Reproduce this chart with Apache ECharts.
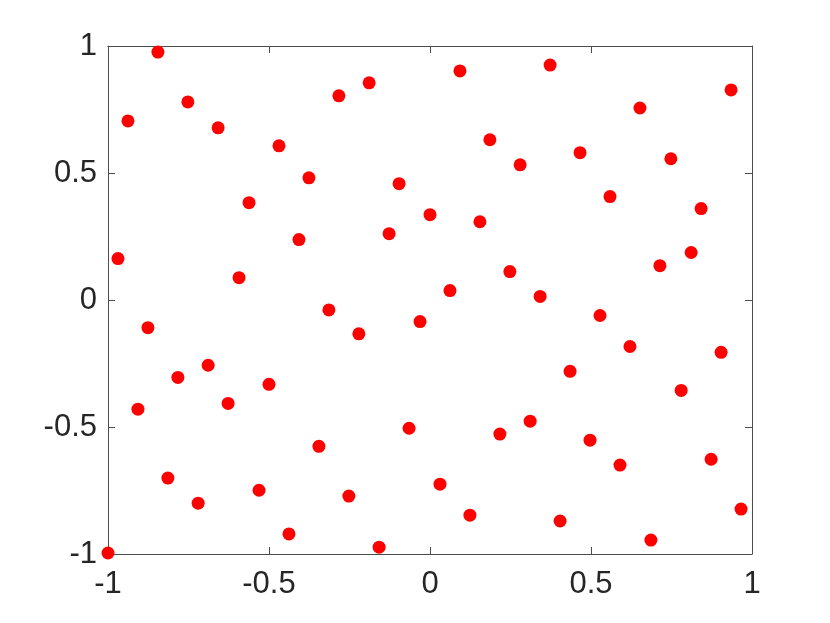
<!DOCTYPE html>
<html>
<head>
<meta charset="utf-8">
<script src="https://cdn.jsdelivr.net/npm/echarts@6/dist/echarts.min.js"></script>
<style>
    html, body { margin: 0; padding: 0; background: #fff; }
    #chart { width: 830px; height: 623px; }
</style>
</head>
<body>
<div id="chart"></div>
<script>
    // 点的坐标
    const xValues = [
        -0.845, -0.938, -0.752, -0.658, -0.969, -0.469, -0.562, -0.376, -0.283, -0.189,
        -0.407, -0.593, -0.876, -0.314, -0.221, -0.096, -0.127, 0.000, 0.093, 0.373,
        0.186, 0.280, 0.155, 0.466, 0.652, 0.935, 0.748, 0.559, 0.842, 0.248,
        0.342, 0.062, -0.031, 0.714, 0.811, 0.528, 0.621, 0.904, 0.780, 0.435,
        -0.783, -0.689, -0.907, -0.500, -0.627, -0.345, -0.065, 0.217, 0.311, 0.497,
        0.590, 0.873, -0.814, -0.720, -0.531, -0.252, 0.031, 0.124, 0.404, -0.438,
        -0.158, 0.686, 0.966, -1.000
    ]
    const yValues = [
        0.976, 0.705, 0.780, 0.678, 0.163, 0.607, 0.383, 0.481, 0.804, 0.855,
        0.238, 0.088, -0.109, -0.039, -0.133, 0.458, 0.261, 0.336, 0.902, 0.925,
        0.631, 0.532, 0.308, 0.580, 0.756, 0.827, 0.556, 0.407, 0.360, 0.112,
        0.014, 0.037, -0.085, 0.135, 0.187, -0.061, -0.183, -0.206, -0.356, -0.281,
        -0.305, -0.257, -0.430, -0.332, -0.407, -0.576, -0.505, -0.528, -0.477, -0.552,
        -0.650, -0.627, -0.701, -0.800, -0.749, -0.772, -0.725, -0.847, -0.870, -0.921,
        -0.973, -0.945, -0.823, -0.996
    ]
    const tickLabels = ['-1', '-0.5', '0', '0.5', '1']

    const axisColor = '#4d4d4d'
    const labelColor = '#262626'
    const fontFamily = '"Liberation Sans", Arial, sans-serif'

    function makeAxis (position, showLabel, margin) {
        return {
            type: 'value',
            position: position,
            min: -1,
            max: 1,
            interval: 0.5,
            axisLine: { show: true, onZero: false, lineStyle: { color: axisColor, width: 1 } },
            axisTick: { show: true, inside: true, length: 7, lineStyle: { color: axisColor } },
            axisLabel: {
                show: showLabel,
                color: labelColor,
                fontSize: 31,
                fontFamily: fontFamily,
                margin: margin,
                formatter: function (v) {
                    const i = Math.round((v + 1) / 0.5)
                    return tickLabels[i]
                }
            },
            splitLine: { show: false }
        }
    }

    const chart = echarts.init(document.getElementById('chart'))
    chart.setOption({
        animation: false,
        grid: { left: 108, right: 78, top: 46, bottom: 69 },
        xAxis: [makeAxis('bottom', true, 15), makeAxis('top', false, 8)],
        yAxis: [makeAxis('left', true, 11), makeAxis('right', false, 8)],
        series: [{
            type: 'scatter',
            symbolSize: 13,
            itemStyle: { color: '#ff0000', opacity: 1 },
            data: xValues.map((x, i) => [x, yValues[i]])
        }]
    })
</script>
</body>
</html>
